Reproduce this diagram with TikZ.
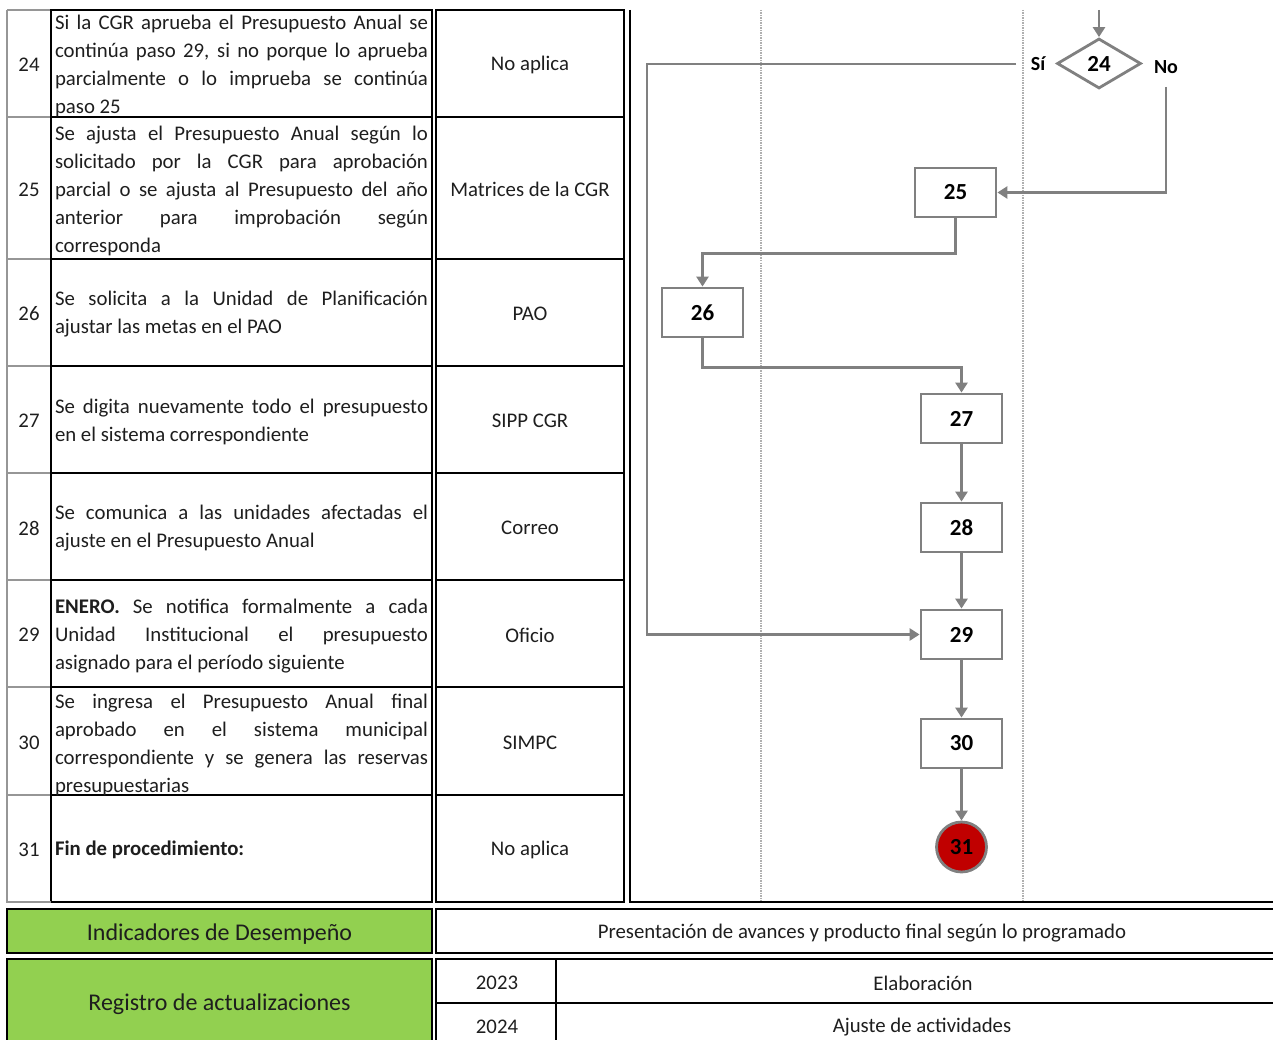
\documentclass[tikz,border=0pt]{standalone}
\usepackage{fontspec}
\setmainfont{Carlito}
\usetikzlibrary{shapes.geometric,arrows.meta}
\definecolor{lgreen}{RGB}{146,208,80}
\definecolor{fgray}{RGB}{128,128,128}
\definecolor{dotgray}{RGB}{175,175,175}
\definecolor{cgray}{RGB}{150,150,150}
\definecolor{endred}{RGB}{192,0,0}
\definecolor{txt}{RGB}{30,30,30}
\newlength{\dw}\setlength{\dw}{373pt}
\newcommand{\jl}[1]{\makebox[\dw][s]{#1}}
\newcommand{\lastl}[1]{\makebox[\dw][l]{#1}}
\tikzset{
  desc/.style={align=left, inner sep=0pt, text=txt, font=\fontsize{20.8}{28}\selectfont},
  cell/.style={inner sep=0pt, text=txt, font=\fontsize{20.8}{24}\selectfont},
  biglab/.style={inner sep=0pt, text=txt, font=\fontsize{24}{28}\selectfont},
  tline/.style={draw=black, line width=1.5pt},
  gline/.style={draw=cgray, line width=1.5pt},
  bline/.style={draw=black, line width=2.6pt},
  lane/.style={draw=dotgray, line width=1.4pt, dash pattern=on 1.5pt off 1pt},
  fbox/.style={draw=fgray, line width=2.8pt, fill=white, minimum width=81pt, minimum height=49pt, inner sep=0pt, font=\bfseries\fontsize{23}{26}\selectfont},
  fdia/.style={diamond, draw=fgray, line width=2.8pt, fill=white, minimum width=84pt, minimum height=50pt, inner sep=0pt, font=\bfseries\fontsize{23}{26}\selectfont},
  fend/.style={circle, draw=fgray, line width=2.8pt, fill=endred, minimum size=50pt, inner sep=0pt, font=\bfseries\fontsize{23}{26}\selectfont},
  flab/.style={inner sep=0pt, font=\bfseries\fontsize{20}{24}\selectfont},
  arr/.style={draw=fgray, line width=2.8pt, -{Triangle[length=10pt,width=12pt]}},
}
\begin{document}
\begin{tikzpicture}[x=1pt,y=-1pt]
\useasboundingbox (0,0) rectangle (1273,1040);
% ---------- lanes ----------
\draw[lane] (761,10) -- (761,902);
\draw[lane] (1023,10) -- (1023,902);
% ---------- main table ----------
\foreach \a/\b in {10/117,117/259,259/366,366/473,473/580,580/687,687/795,795/902}{
  \draw[gline] (7,\a) -- (51,\a);
  \draw[tline] (51,\a) rectangle (432,\b);
  \draw[tline] (436,\a) rectangle (624,\b);
}
\draw[gline] (7,10) -- (7,902) -- (51,902);
\draw[tline] (630,10) -- (630,902) -- (1273,902);
% numbers
\foreach \n/\y in {24/65,25/189.5,26/314,27/421,28/528,29/635,30/742.5,31/850}{
  \node[cell] (n\n) at (29,\y) {\n};
}
% descriptions
\node[desc] (d24) at (241.5,66) {\jl{Si la CGR aprueba el Presupuesto Anual se}\\\jl{continúa paso 29, si no porque lo aprueba}\\\jl{parcialmente o lo imprueba se continúa}\\\lastl{paso 25}};
\node[desc] (d25) at (241.5,190.5) {\jl{Se ajusta el Presupuesto Anual según lo}\\\jl{solicitado por la CGR para aprobación}\\\jl{parcial o se ajusta al Presupuesto del año}\\\jl{anterior para improbación según}\\\lastl{corresponda}};
\node[desc] (d26) at (241.5,314.5) {\jl{Se solicita a la Unidad de Planificación}\\\lastl{ajustar las metas en el PAO}};
\node[desc] (d27) at (241.5,421.5) {\jl{Se digita nuevamente todo el presupuesto}\\\lastl{en el sistema correspondiente}};
\node[desc] (d28) at (241.5,528.5) {\jl{Se comunica a las unidades afectadas el}\\\lastl{ajuste en el Presupuesto Anual}};
\node[desc] (d29) at (241.5,636) {\jl{\textbf{ENERO.} Se notifica formalmente a cada}\\\jl{Unidad Institucional el presupuesto}\\\lastl{asignado para el período siguiente}};
\node[desc] (d30) at (241.5,744.5) {\jl{Se ingresa el Presupuesto Anual final}\\\jl{aprobado en el sistema municipal}\\\jl{correspondiente y se genera las reservas}\\\lastl{presupuestarias}};
\node[desc] (d31) at (241.5,850) {\lastl{\textbf{Fin de procedimiento:}}};
% resources
\node[cell] (r24) at (530,65) {No aplica};
\node[cell] (r25) at (530,189.5) {Matrices de la CGR};
\node[cell] (r26) at (530,314) {PAO};
\node[cell] (r27) at (530,421) {SIPP CGR};
\node[cell] (r28) at (530,528) {Correo};
\node[cell] (r29) at (530,635) {Oficio};
\node[cell] (r30) at (530,742.5) {SIMPC};
\node[cell] (r31) at (530,850) {No aplica};
% ---------- bottom table ----------
\fill[lgreen] (7,909) rectangle (432,953);
\fill[lgreen] (7,959) rectangle (432,1045);
\draw[bline] (7,909) rectangle (432,953);
\draw[bline] (7,1045) -- (7,959) -- (432,959) -- (432,1045);
\draw[bline] (1275,909) -- (436,909) -- (436,953) -- (1275,953);
\draw[bline] (1275,959) -- (436,959) -- (436,1045);
\draw[bline] (556,959) -- (556,1045);
\draw[bline] (436,1003) -- (1275,1003);
\node[biglab] (ind) at (219.5,934) {Indicadores de Desempeño};
\node[biglab] (reg) at (219.5,1004) {Registro de actualizaciones};
\node[cell] (pres) at (862,933) {Presentación de avances y producto final según lo programado};
\node[cell] (y23) at (497,983) {2023};
\node[cell] (y24) at (497,1027) {2024};
\node[cell] (e23) at (923,983) {Elaboración};
\node[cell] (e24) at (922,1027) {Ajuste de actividades};
% ---------- flowchart ----------
\node[fdia] (b24) at (1099,63.5) {24};
\node[fbox] (b25) at (955.5,192.5) {25};
\node[fbox] (b26) at (702.5,312.5) {26};
\node[fbox] (b27) at (961.5,418.5) {27};
\node[fbox] (b28) at (961.5,527.5) {28};
\node[fbox] (b29) at (961.5,634.5) {29};
\node[fbox] (b30) at (961.5,743.5) {30};
\node[fend] (b31) at (961.5,847) {31};
\node[flab] (si) at (1038,64) {Sí};
\node[flab] (no) at (1166,67) {No};
\coordinate (tin) at (1099,10);
\coordinate (sis) at (1016,64);
\coordinate (sil) at (647,64);
\coordinate (nos) at (1166,87);
\draw[arr] (tin) -- (b24.north);
\draw[arr] (sis) -- (sil) |- (b29.west);
\draw[arr] (nos) |- (b25.east);
\draw[arr] (b25.south) -- ++(0,35) -| (b26.north);
\draw[arr] (b26.south) -- ++(0,29) -| (b27.north);
\draw[arr] (b27) -- (b28);
\draw[arr] (b28) -- (b29);
\draw[arr] (b29) -- (b30);
\draw[arr] (b30) -- (b31);
\end{tikzpicture}
\end{document}
